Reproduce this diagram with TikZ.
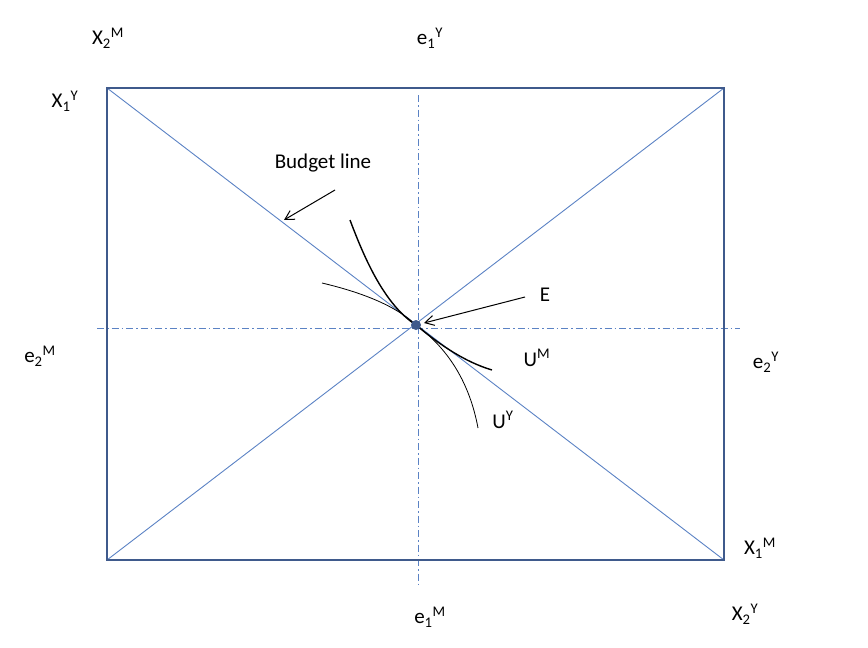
\documentclass[tikz,border=0pt]{standalone}
\usepackage{fontspec}
\setmainfont{Carlito}
\usetikzlibrary{arrows.meta}
\definecolor{boxc}{HTML}{3F5A8C}
\definecolor{linec}{HTML}{5B82C4}
\begin{document}
\begin{tikzpicture}[x=1pt,y=-1pt,
  lbl/.style={font=\fontsize{21}{24}\selectfont,inner sep=0pt},
  frame/.style={draw=boxc,line width=2.6pt},
  diag/.style={draw=linec,line width=0.9pt},
  axis/.style={draw=linec,line width=0.9pt,dash pattern=on 7pt off 3pt on 1.5pt off 3pt},
  arr/.style={-{Straight Barb[length=9pt,width=10pt]},line width=1pt,black}]
\useasboundingbox (0,0) rectangle (868,648);
\coordinate (tl) at (107,88); \coordinate (tr) at (724,88);
\coordinate (bl) at (107,560); \coordinate (br) at (724,560);
\coordinate (E0) at (416,325);
\draw[diag] (tl) -- (br);
\draw[diag] (bl) -- (tr);
\draw[axis] (418,95) -- (418,588);
\draw[axis] (97,328) -- (740,328);
\draw[frame] (tl) rectangle (br);
\draw[line width=1.4pt] (350,220) .. controls (365,260) and (385,305) .. (E0) .. controls (440,345) and (465,362) .. (492,370);
\draw[line width=0.8pt] (322,283) .. controls (360,292) and (395,305) .. (E0) .. controls (450,350) and (470,385) .. (478,428);
\fill[boxc] (E0) circle (5);
\node[lbl] (bud) at (323,163) {Budget line};
\node[lbl] (e) at (545,295) {E};
\coordinate (bs) at (335,190); \coordinate (be) at (284,220);
\draw[arr] (bs) -- (be);
\coordinate (es) at (525,297);
\draw[arr] (es) -- (424,323);
\node[lbl] (um) at (537,358) {U\textsuperscript{M}};
\node[lbl] (uy) at (503,420) {U\textsuperscript{Y}};
\node[lbl] (x2m) at (108,38) {X\textsubscript{2}\textsuperscript{M}};
\node[lbl] (e1y) at (430,38) {e\textsubscript{1}\textsuperscript{Y}};
\node[lbl] (x1y) at (65,101) {X\textsubscript{1}\textsuperscript{Y}};
\node[lbl] (e2m) at (40,356) {e\textsubscript{2}\textsuperscript{M}};
\node[lbl] (e2y) at (766,362) {e\textsubscript{2}\textsuperscript{Y}};
\node[lbl] (x1m) at (760,548) {X\textsubscript{1}\textsuperscript{M}};
\node[lbl] (e1m) at (430,617) {e\textsubscript{1}\textsuperscript{M}};
\node[lbl] (x2y) at (745,614) {X\textsubscript{2}\textsuperscript{Y}};
\end{tikzpicture}
\end{document}
